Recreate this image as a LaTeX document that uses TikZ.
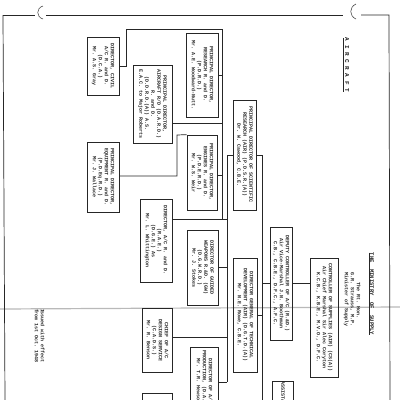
\documentclass[tikz,border=0pt]{standalone}
\usepackage{fontspec}
\setmonofont{Liberation Mono}
\newcommand\rtxt[1]{\rotatebox{-90}{\begin{tabular}{@{}c@{}}#1\end{tabular}}}
\tikzset{
  box/.style={draw=black!85, line width=0.7pt, inner sep=0pt, text=black!85,
    font=\ttfamily\bfseries\fontsize{5}{6}\selectfont},
  wire/.style={draw=black!85, line width=0.7pt},
  lbl/.style={inner sep=0pt, text=black!85, font=\ttfamily\bfseries\fontsize{5}{6}\selectfont},
}
\begin{document}
\begin{tikzpicture}[x=1pt,y=-1pt]
\useasboundingbox (0,0) rectangle (400,400);
\clip (0,0) rectangle (400,400);
\fill[white] (0,0) rectangle (400,400);
% fold line
\draw[gray!55, line width=1.2pt] (0,309) -- (400,307);
% page borders and punch holes
\draw[wire] (3,15) -- (35,15);
\draw[wire] (46,15) -- (343,15);
\draw[wire] (361,15) -- (389,15) -- (390,400);
\draw[wire] (3,15) -- (5,400);
\draw[black!70, line width=0.6pt] (43,6) .. controls (36,8) and (36,17) .. (43,19);
\draw[black!70, line width=0.6pt] (356,4) .. controls (349,7) and (349,16) .. (356,19);
% headings
\node[lbl, font=\ttfamily\bfseries\fontsize{6}{7}\selectfont] (hAir) at (346,65) {\rotatebox{-90}{\underline{A I R C R A F T}}};
\node[lbl, font=\ttfamily\bfseries\fontsize{5.5}{7}\selectfont] (hMin) at (371,294) {\rotatebox{-90}{\underline{THE\ \ MINISTRY\ \ OF\ \ SUPPLY}}};
\node[lbl] (minister) at (352,300) {\rtxt{The Rt. Hon.\\G.R. Strauss, M.P.\\Minister of Supply}};
\node[lbl] (note) at (39,336) {\rtxt{Issued with effect\\from 1st Oct. 1948}};
% boxes
\node[box, minimum width=32, minimum height=58] (A) at (103,66) {\rtxt{DIRECTOR, CIVIL\\A/C R. and D.\\(D.C.A.)\\Mr. A.S. Gray}};
\node[box, minimum width=39, minimum height=78] (B) at (152.5,104) {\rtxt{PRINCIPAL DIRECTOR,\\AIRCRAFT R/D (D.A.R.D.)\\R. and D.\\(D.D.R.D.(A)) A.S.\\E.A.C. to Major Roberts}};
\node[box, minimum width=32, minimum height=84] (C) at (202,75) {\rtxt{PRINCIPAL DIRECTOR,\\RESEARCH R. and D.\\(P.D.R.D.)\\Mr. A.E. Woodward-Nutt.}};
\node[box, minimum width=30, minimum height=75] (D) at (202,172.5) {\rtxt{PRINCIPAL DIRECTOR,\\ENGINES R. and D.\\(P.D.E.R.D.)\\Mr. W.S. Weir}};
\node[box, minimum width=32, minimum height=70] (E) at (103,177) {\rtxt{PRINCIPAL DIRECTOR,\\EQUIPMENT R. and D.\\(P.D.Eq.R.D.)\\Mr. J. Wallace}};
\node[box, minimum width=32, minimum height=83] (F) at (156,240.5) {\rtxt{DIRECTOR, A/C R. and D.\\(R.A.E.)\\(D.G.E.) As\\Mr. L. Whittington}};
\node[box, minimum width=31, minimum height=75] (G) at (202.5,267.5) {\rtxt{DIRECTOR OF GUIDED\\WEAPONS R.\&D. (GW)\\(D.G.W.R.D.)\\Mr. J. Stokes}};
\node[box, minimum width=23, minimum height=110] (H) at (244.5,155) {\rtxt{PRINCIPAL DIRECTOR OF SCIENTIFIC\\RESEARCH (AIR) (P.D.S.R.(A))\\Dr. W. Cawood, C.B.E.}};
\node[box, minimum width=30, minimum height=64] (J) at (157,340) {\rtxt{CHIEF OF A/C\\DESIGN SERVICE\\(C.A.D.S.)\\Mr. R. Benson}};
\node[box, minimum width=28, minimum height=68] (K) at (204,381) {\rtxt{DIRECTOR OF A/C\\PRODUCTION, (D.A.P.)\\Mr. T.R. Hewson}};
\node[box, minimum width=24, minimum height=114] (L) at (245,315) {\rtxt{DIRECTOR GENERAL OF TECHNICAL\\DEVELOPMENT (AIR) (D.G.T.D.(A))\\Mr. N.E. Rowe, C.B.E.}};
\node[box, minimum width=22, minimum height=113] (M) at (281,283.5) {\rtxt{DEPUTY CONTROLLER OF A/C (R.\&D.)\\Air Vice-Marshal J.N. Boothman\\C.B., C.B.E., D.F.C., A.F.C.}};
\node[box, minimum width=28, minimum height=119] (N) at (324,317.5) {\rtxt{CONTROLLER OF SUPPLIES (AIR) (CS(A))\\Air Chief Marshal Sir Alec Coryton\\K.C.B., K.B.E., M.V.O., D.F.C.}};
\node[box, minimum width=21, minimum height=57] (O) at (282.5,411.5) {\rtxt{ASSISTANT CONTROLLER}};
\node[box, minimum width=30, minimum height=47] (P) at (157,416.5) {};
% bus points
\coordinate (j1) at (126,29);
\coordinate (v1a) at (222,29);
\coordinate (v1b) at (222,219);
\coordinate (bB) at (222,123);
\coordinate (bD) at (222,175);
\coordinate (bF) at (227,219);
\coordinate (eM) at (177,176);
\coordinate (eT) at (177,135);
\coordinate (bG) at (227,267);
\coordinate (hL) at (227,155);
\coordinate (hR) at (262,155);
\coordinate (bJ) at (227,337);
\coordinate (bK) at (227,382);
\coordinate (sEnd) at (262,402);
% connectors
\draw[wire] (A.east) -| (j1) -- (v1a) -- (v1b) -- (bF);
\draw[wire] (C.east) -- (C.east -| v1a);
\draw[wire] (B.east |- bB) -- (bB);
\draw[wire] (D.east |- bD) -- (bD);
\draw[wire] (F.east |- bF) -- (bF);
\draw[wire] (E.east |- eM) -- (eM) -- (eT) -- (D.north west);
\draw[wire] (G.east |- bG) -- (bG);
\draw[wire] (H.west) -- (hL) -- (bK);
\draw[wire] (J.east |- bJ) -- (bJ);
\draw[wire] (K.east |- bK) -- (bK);
\draw[wire] (H.east) -- (hR) -- (sEnd);
\draw[wire] (L.east) -- (L.east -| hR);
\draw[wire] (M.west) -- (M.west -| hR);
\draw[wire] (M.east) -- (N.west |- M.east);
\end{tikzpicture}
\end{document}
